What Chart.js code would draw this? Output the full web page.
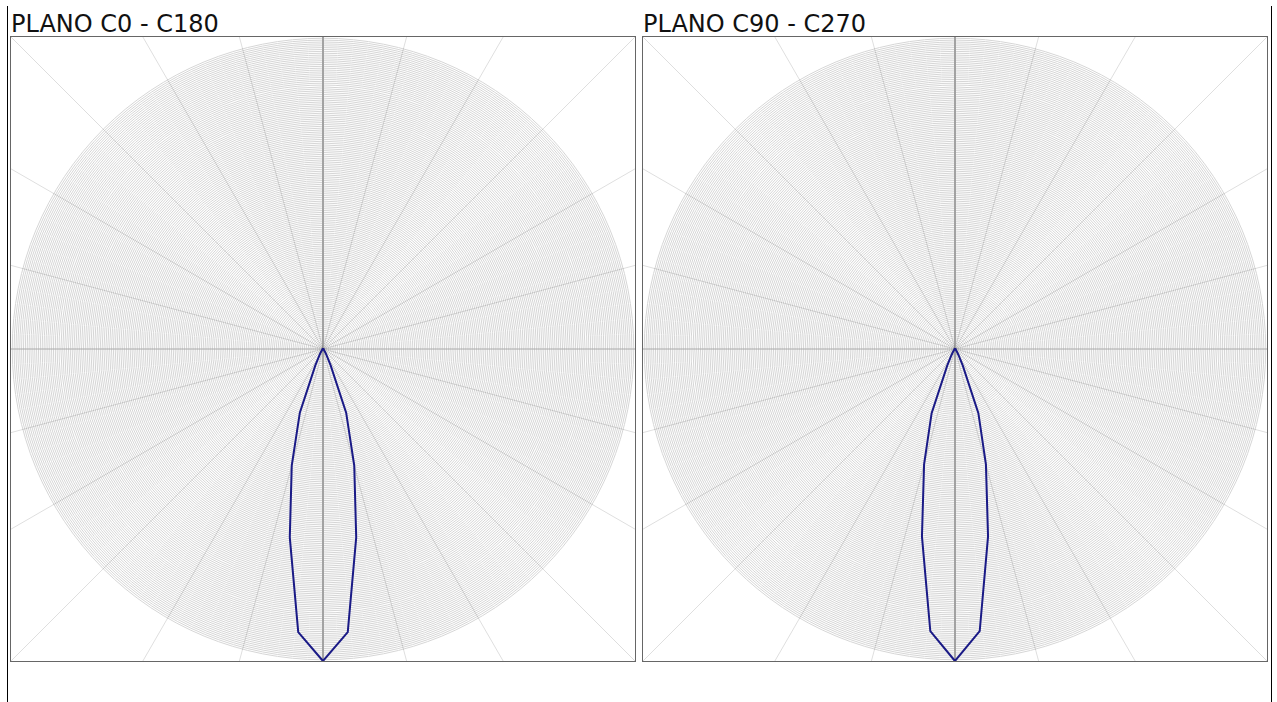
<!DOCTYPE html>
<html>
<head>
<meta charset="utf-8">
<script src="https://cdn.jsdelivr.net/npm/chart.js@4.4.1/dist/chart.umd.min.js"></script>
<style>
    body { margin: 0; background: #fff; font-family: "DejaVu Sans", Verdana, sans-serif; }
    #frame { position: absolute; left: 7px; top: 6px; width: 1265px; height: 720px; border-left: 1px solid #000; border-right: 1px solid #000; box-sizing: border-box; }
    .title { position: absolute; top: 12px; font-size: 24px; line-height: 24px; color: #111; white-space: nowrap; }
    .box { position: absolute; top: 36px; width: 626px; height: 626px; border: 1px solid #666; box-sizing: border-box; overflow: hidden; }
    .box canvas { position: absolute; left: -130px; top: -130px; }
</style>
</head>
<body>
<div id="frame"></div>
<div class="title" style="left:11px">PLANO C0 - C180</div>
<div class="title" style="left:643px">PLANO C90 - C270</div>
<div class="box" style="left:10px"><canvas id="chart-c0" width="884" height="884"></canvas></div>
<div class="box" style="left:642px"><canvas id="chart-c90" width="884" height="884"></canvas></div>
<script>
// gamma angles (degrees from nadir), one value every 5 degrees
const gammaAngles = [0, 5, 10, 15, 20, 25, 30, 35, 40, 45, 50, 55, 60, 65, 70, 75, 80, 85, 90,
    95, 100, 105, 110, 115, 120, 125, 130, 135, 140, 145, 150, 155, 160, 165, 170, 175, 180];

// relative intensity, % of peak
const planeC0 = [100, 91.1, 61.3, 38.7, 21.7, 5.8, 2.2, 1.1, 0.6, 0.4, 0.3, 0.25, 0.2, 0.15, 0.1, 0.1, 0.05, 0.05, 0,
    0, 0, 0, 0, 0, 0, 0, 0, 0, 0, 0, 0, 0, 0, 0, 0, 0, 0];
const planeC180 = [100, 91.1, 61.3, 38.7, 21.7, 5.8, 2.2, 1.1, 0.6, 0.4, 0.3, 0.25, 0.2, 0.15, 0.1, 0.1, 0.05, 0.05, 0,
    0, 0, 0, 0, 0, 0, 0, 0, 0, 0, 0, 0, 0, 0, 0, 0, 0, 0];
const planeC90 = [100, 90.8, 61.0, 38.3, 21.9, 5.9, 2.3, 1.1, 0.6, 0.4, 0.3, 0.25, 0.2, 0.15, 0.1, 0.1, 0.05, 0.05, 0,
    0, 0, 0, 0, 0, 0, 0, 0, 0, 0, 0, 0, 0, 0, 0, 0, 0, 0];
const planeC270 = [100, 90.8, 61.0, 38.3, 21.9, 5.9, 2.3, 1.1, 0.6, 0.4, 0.3, 0.25, 0.2, 0.15, 0.1, 0.1, 0.05, 0.05, 0,
    0, 0, 0, 0, 0, 0, 0, 0, 0, 0, 0, 0, 0, 0, 0, 0, 0, 0];

const PEAK = 100;        // outer grid circle
const CIRCLE_STEP = 0.6; // spacing of the concentric circles

// The canvas is bigger than the box so the spokes run out to the corners;
// the grid circles stop at PEAK, which lands on the box edge.
const BOX_RADIUS = 312;
const CANVAS_RADIUS = 442;
const SCALE_MAX = PEAK * CANVAS_RADIUS / BOX_RADIUS;

// radar starts at the bottom and goes clockwise: left half down->up, then right half back down
function fullCircle(leftHalf, rightHalf) {
    const out = leftHalf.slice();
    for (let i = rightHalf.length - 2; i >= 1; i--) {
        out.push(rightHalf[i]);
    }
    return out;
}

const labels = gammaAngles.concat(gammaAngles.slice(1, -1).reverse()).map(a => a + '°');

function spokeColor(ctx) {
    const i = ctx.index;
    if (i % 18 === 0) return i % 36 === 0 ? '#a2a2a2' : '#aaaaaa';
    return i % 3 === 0 ? 'rgba(0,0,0,0.13)' : null;
}

function spokeWidth(ctx) {
    const i = ctx.index;
    if (i % 36 === 0) return 2;
    return i % 3 === 0 ? 1 : 0;
}

function drawPlane(canvasId, name, leftHalf, rightHalf) {
    new Chart(document.getElementById(canvasId), {
        type: 'radar',
        data: {
            labels: labels,
            datasets: [{
                label: name,
                data: fullCircle(leftHalf, rightHalf),
                borderColor: '#1a1a86',
                borderWidth: 2,
                pointRadius: 0,
                fill: false,
                tension: 0,
            }]
        },
        options: {
            responsive: false,
            animation: false,
            devicePixelRatio: 1,
            events: [],
            layout: { padding: 0 },
            plugins: {
                legend: { display: false },
                tooltip: { enabled: false },
            },
            scales: {
                r: {
                    min: 0,
                    max: SCALE_MAX,
                    startAngle: 180,
                    ticks: { display: false, stepSize: CIRCLE_STEP },
                    pointLabels: { display: false },
                    grid: {
                        circular: true,
                        color: '#d6d6d6',
                        lineWidth: (ctx) => (ctx.tick && ctx.tick.value <= PEAK + 1e-6) ? 1 : 0,
                    },
                    angleLines: {
                        color: spokeColor,
                        lineWidth: spokeWidth,
                    },
                }
            }
        }
    });
}

drawPlane('chart-c0', 'C0 - C180', planeC180, planeC0);
drawPlane('chart-c90', 'C90 - C270', planeC270, planeC90);
</script>
</body>
</html>
